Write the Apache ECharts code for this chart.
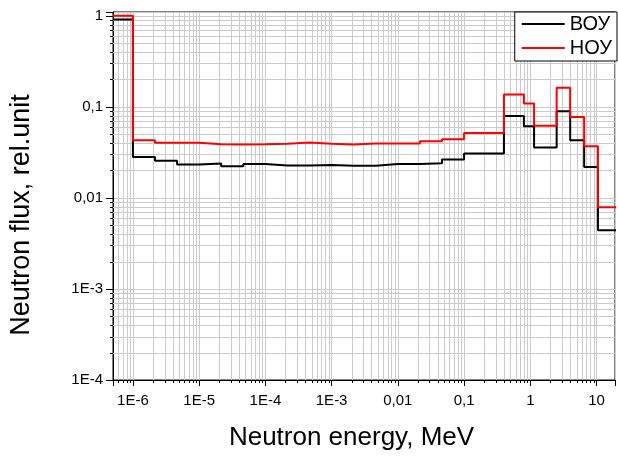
<!DOCTYPE html>
<html><head><meta charset="utf-8">
<script src="https://cdn.jsdelivr.net/npm/echarts@6/dist/echarts.min.js"></script>
<style>html,body{margin:0;padding:0;background:#fff}#c{width:618px;height:461px}</style>
</head><body><div id="c"></div>
<script>
// Energy group boundaries (MeV)
const binEdges = [5e-7, 1e-6, 2.15e-6, 4.64e-6, 1e-5, 2.15e-5, 4.64e-5, 1e-4, 2.15e-4, 4.64e-4,
  1e-3, 2.15e-3, 4.64e-3, 1e-2, 2.15e-2, 4.64e-2, 0.1, 0.4, 0.8, 1.14, 2.5, 4.0, 6.5, 10.5, 20];
// Group flux values (rel. unit)
const fluxVOU = [0.91, 0.0282, 0.0255, 0.0233, 0.0238, 0.0223, 0.0235, 0.0227, 0.0227, 0.0229,
  0.0226, 0.0226, 0.0235, 0.0235, 0.0240, 0.0264, 0.0307, 0.0794, 0.0612, 0.0358, 0.0894, 0.0430, 0.0219, 0.0044];
const fluxNOU = [1.0, 0.0430, 0.0402, 0.0402, 0.0389, 0.0386, 0.0389, 0.0393, 0.0406, 0.0392,
  0.0386, 0.0396, 0.0396, 0.0396, 0.0419, 0.0441, 0.0517, 0.137, 0.1085, 0.0620, 0.1625, 0.0774, 0.0370, 0.0079];
const seriesNames = ['ВОУ', 'НОУ'];
const xTickValues = [1e-6, 1e-5, 1e-4, 1e-3, 0.01, 0.1, 1, 10];
const xTickLabels = ['1E-6', '1E-5', '1E-4', '1E-3', '0,01', '0,1', '1', '10'];
const yTickValues = [1e-4, 1e-3, 0.01, 0.1, 1];
const yTickLabels = ['1E-4', '1E-3', '0,01', '0,1', '1'];

const X_MIN = 5e-7, X_MAX = 19, Y_MIN = 1e-4, Y_MAX = 1.1;
const FONT = 'Liberation Sans, Arial, sans-serif';

function stepData(vals) {
  const d = vals.map((v, i) => [binEdges[i], v]);
  d.push([binEdges[vals.length], vals[vals.length - 1]]);
  return d;
}
function minorValues(lo, hi) {
  const out = [];
  for (let e = Math.floor(Math.log10(lo)); e <= Math.ceil(Math.log10(hi)); e++) {
    for (let k = 2; k <= 9; k++) {
      const v = k * Math.pow(10, e);
      if (v > lo * 1.0001 && v < hi * 0.9999) out.push(v);
    }
  }
  return out;
}
function fmt(values, labels) {
  return function (v) {
    for (let i = 0; i < values.length; i++) if (Math.abs(v / values[i] - 1) < 1e-6) return labels[i];
    return '';
  };
}
const xMinor = minorValues(X_MIN, X_MAX);
const yMinor = minorValues(Y_MIN, Y_MAX);
const GRID_C = '#cbcbcb';

const chart = echarts.init(document.getElementById('c'), null, {renderer: 'canvas'});
chart.setOption({
  animation: false,
  backgroundColor: '#fff',
  grid: {left: 113, right: 1, top: 12, bottom: 81, show: true, borderColor: '#000', borderWidth: 1, backgroundColor: 'transparent'},
  legend: {
    data: seriesNames, orient: 'vertical', right: 1, top: 12, icon: 'rect',
    padding: [2, 5, 3, 7], itemGap: 4, itemWidth: 43, itemHeight: 2,
    backgroundColor: '#fff', borderColor: '#000', borderWidth: 1, borderRadius: 0,
    textStyle: {fontFamily: FONT, fontSize: 20, color: '#000', lineHeight: 20}
  },
  xAxis: {
    type: 'log', logBase: 10, min: X_MIN, max: X_MAX,
    name: 'Neutron energy, MeV', nameLocation: 'middle', nameGap: 45,
    nameTextStyle: {fontFamily: FONT, fontSize: 26, color: '#000', padding: [0, 25, 0, 0]},
    axisLine: {show: true, lineStyle: {color: '#000', width: 1}},
    axisTick: {show: true, inside: false, length: 6, lineStyle: {color: '#000'}},
    axisLabel: {interval: 0, margin: 13, fontFamily: FONT, fontSize: 15, color: '#000', formatter: fmt(xTickValues, xTickLabels)},
    splitLine: {show: true, lineStyle: {color: GRID_C, width: 1}}
  },
  yAxis: {
    type: 'log', logBase: 10, min: Y_MIN, max: Y_MAX,
    name: 'Neutron flux, rel.unit', nameLocation: 'middle', nameGap: 78,
    nameTextStyle: {fontFamily: FONT, fontSize: 27, color: '#000', padding: [0, 38, 0, 0]},
    axisLine: {show: true, lineStyle: {color: '#000', width: 1}},
    axisTick: {show: true, inside: false, length: 7, lineStyle: {color: '#000'}},
    axisLabel: {interval: 0, margin: 10, fontFamily: FONT, fontSize: 15, color: '#000', formatter: fmt(yTickValues, yTickLabels)},
    splitLine: {show: true, lineStyle: {color: GRID_C, width: 1}}
  },
  series: [
    {
      type: 'custom', name: 'xminor', z: 1, silent: true, clip: false,
      data: xMinor.map(v => [v, 1]),
      renderItem: function (params, api) {
        const cs = params.coordSys;
        const x = Math.round(api.coord([api.value(0), 1])[0]) + 0.5;
        const b = cs.y + cs.height;
        return {type: 'group', children: [
          {type: 'line', shape: {x1: x, y1: cs.y, x2: x, y2: b}, style: {stroke: GRID_C, lineWidth: 1}},
          {type: 'line', shape: {x1: x, y1: b, x2: x, y2: b + 3}, style: {stroke: '#000', lineWidth: 1}}
        ]};
      }
    },
    {
      type: 'custom', name: 'yminor', z: 1, silent: true, clip: false,
      data: yMinor.map(v => [1, v]),
      renderItem: function (params, api) {
        const cs = params.coordSys;
        const y = Math.round(api.coord([1, api.value(1)])[1]) + 0.5;
        return {type: 'group', children: [
          {type: 'line', shape: {x1: cs.x, y1: y, x2: cs.x + cs.width, y2: y}, style: {stroke: GRID_C, lineWidth: 1}},
          {type: 'line', shape: {x1: cs.x - 3, y1: y, x2: cs.x, y2: y}, style: {stroke: '#000', lineWidth: 1}}
        ]};
      }
    },
    {
      type: 'line', name: seriesNames[0], step: 'end', symbol: 'none', z: 3,
      data: stepData(fluxVOU), lineStyle: {color: '#000', width: 2}, itemStyle: {color: '#000'}
    },
    {
      type: 'line', name: seriesNames[1], step: 'end', symbol: 'none', z: 4,
      data: stepData(fluxNOU), lineStyle: {color: '#ff0000', width: 2}, itemStyle: {color: '#ff0000'}
    }
  ]
});
</script></body></html>
